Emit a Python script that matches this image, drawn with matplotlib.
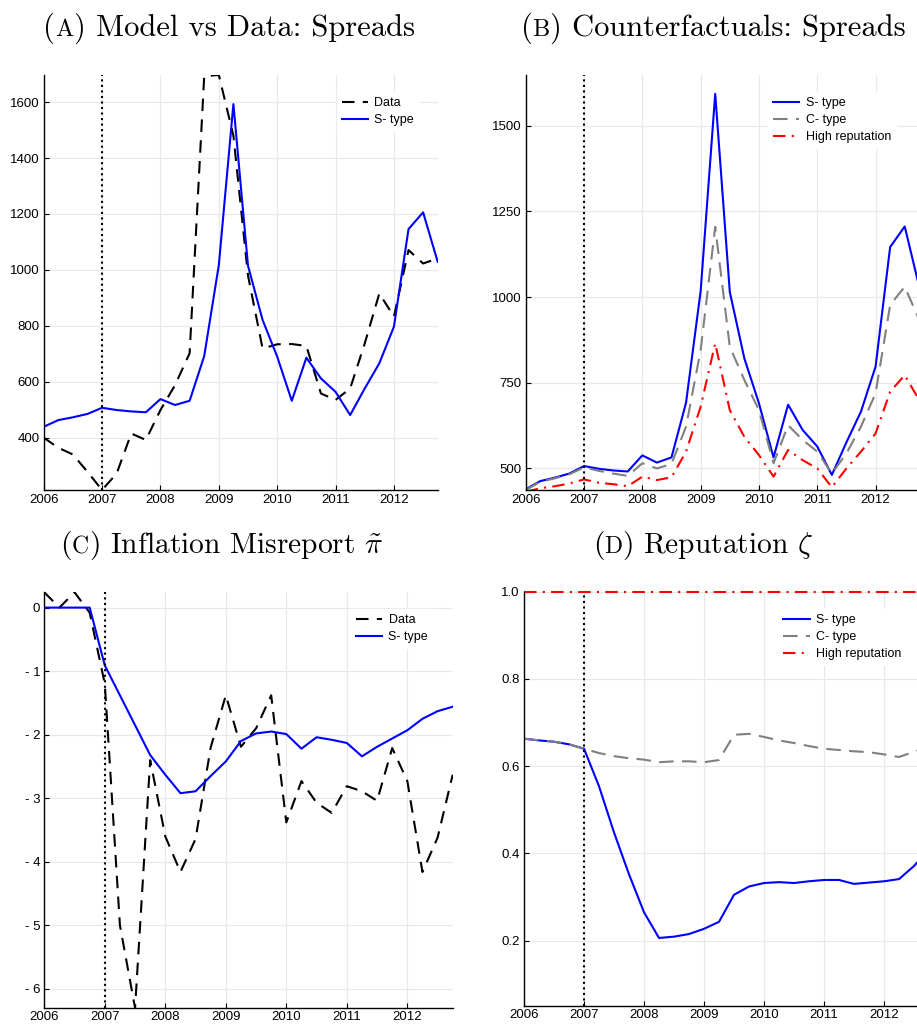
import matplotlib.pyplot as plt
import numpy as np

plt.rcParams['font.family'] = 'Liberation Sans'
plt.rcParams['mathtext.fontset'] = 'cm'

W, H = 917, 1026

# quarterly observations, 2006Q1 - 2012Q4
quarters = np.arange(2006, 2013, 0.25)

spread_data = [400, 364, 340, 278, 213, 272, 415, 392, 499, 588, 702, 1693,
               1697, 1480, 980, 719, 734, 735, 728, 558, 535, 576, 737, 916,
               833, 1071, 1023, 1041]
spread_s = [439, 463, 473, 485, 507, 499, 494, 491, 538, 517, 532, 692,
            1017, 1593, 1015, 821, 690, 532, 686, 612, 564, 481, 576, 666,
            797, 1146, 1206, 1029]
spread_c = [437, 461, 471, 483, 503, 493, 485, 478, 515, 500, 513, 622,
            845, 1205, 855, 758, 670, 515, 626, 583, 549, 485, 544, 622,
            719, 977, 1030, 933]
spread_high = [432, 442, 448, 456, 468, 458, 454, 448, 476, 466, 474, 549,
               680, 865, 670, 592, 539, 476, 554, 524, 500, 445, 500, 549,
               602, 724, 772, 699]

misreport_data = [0.24, 0.0, 0.24, -0.08, -1.2, -5.0, -6.3, -2.4, -3.6, -4.16,
                  -3.64, -2.2, -1.38, -2.19, -1.9, -1.38, -3.38, -2.73, -3.07,
                  -3.23, -2.81, -2.89, -3.04, -2.21, -2.73, -4.16, -3.62, -2.63]
misreport_s = [0, 0, 0, 0, -0.91, -1.38, -1.85, -2.32, -2.63, -2.92, -2.89,
               -2.65, -2.42, -2.10, -1.98, -1.95, -1.99, -2.22, -2.04, -2.08,
               -2.13, -2.34, -2.19, -2.06, -1.93, -1.75, -1.63, -1.56]

reputation_s = [0.663, 0.659, 0.656, 0.650, 0.640, 0.554, 0.448, 0.352, 0.265,
                0.206, 0.209, 0.215, 0.227, 0.243, 0.305, 0.324, 0.332, 0.334,
                0.332, 0.336, 0.339, 0.339, 0.330, 0.333, 0.336, 0.341, 0.371,
                0.41]
reputation_c = [0.663, 0.659, 0.656, 0.650, 0.640, 0.630, 0.623, 0.618, 0.615,
                0.609, 0.611, 0.611, 0.609, 0.614, 0.672, 0.674, 0.667, 0.659,
                0.653, 0.646, 0.640, 0.637, 0.634, 0.632, 0.627, 0.621, 0.633,
                0.645]
reputation_high = [1.0] * len(quarters)

year_ticks = [2006, 2007, 2008, 2009, 2010, 2011, 2012]
year_labels = ['2006', '2007', '2008', '2009', '2010', '2011', '2012']

DATA_STYLE = dict(color='black', lw=1.5, ls=(0, (6, 4)))
S_STYLE = dict(color='#0000ff', lw=1.5)
C_STYLE = dict(color='#808080', lw=1.5, ls=(0, (7, 4)))
HIGH_STYLE = dict(color='#ff0000', lw=1.5, ls=(0, (6, 3, 1, 3)))

fig = plt.figure(figsize=(W / 100, H / 100), dpi=100)


def panel(left, top, right, bottom, xpad=3):
    ax = fig.add_axes([left / W, 1 - bottom / H, (right - left) / W, (bottom - top) / H])
    for side in ('top', 'right'):
        ax.spines[side].set_visible(False)
    for side in ('left', 'bottom'):
        ax.spines[side].set_linewidth(1.0)
    ax.grid(True, color='#e8e8e8', lw=0.9)
    ax.set_axisbelow(True)
    ax.tick_params(direction='in', length=3.5, width=0.8, pad=3, labelsize=9.5)
    ax.tick_params(axis='x', pad=xpad)
    ax.set_xlim(2006, 2012.75)
    ax.set_xticks(year_ticks)
    ax.set_xticklabels(year_labels)
    ax.axvline(2007, color='black', ls=':', lw=1.5, zorder=5)
    return ax


def legend(ax, left, top):
    leg = ax.legend(loc='upper left', bbox_to_anchor=(left / W, 1 - top / H),
                    bbox_transform=fig.transFigure, fontsize=9, frameon=True,
                    fancybox=False, framealpha=1, edgecolor='white',
                    borderpad=0.4, borderaxespad=0, labelspacing=0.4,
                    handlelength=2.1, handletextpad=0.5)
    leg.set_zorder(6)


def caption(cx, base_y, letter, rest, size=22):
    # caption with a small-caps panel letter, centred on cx (pixels)
    parts = [('(', size), (letter, size * 0.8), (') ' + rest, size)]
    texts = [fig.text(0, 1 - base_y / H, s, fontsize=fs, family='cmr10',
                      va='baseline', ha='left') for s, fs in parts]
    renderer = fig.canvas.get_renderer()
    widths = [t.get_window_extent(renderer).width for t in texts]
    x = cx - sum(widths) / 2
    for t, w in zip(texts, widths):
        t.set_x(x / W)
        x += w


# (A) model vs data spreads
ax = panel(43.7, 75, 437.7, 490)
ax.plot(quarters, spread_data, label='Data', **DATA_STYLE)
ax.plot(quarters, spread_s, label='S- type', **S_STYLE)
ax.set_ylim(213, 1697)
ax.set_yticks([400, 600, 800, 1000, 1200, 1400, 1600])
legend(ax, 336.7, 92)

# (B) counterfactual spreads
ax = panel(525.7, 75, 919.3, 490)
ax.plot(quarters, spread_s, label='S- type', **S_STYLE)
ax.plot(quarters, spread_c, label='C- type', **C_STYLE)
ax.plot(quarters, spread_high, label='High reputation', **HIGH_STYLE)
ax.set_ylim(437, 1648)
ax.set_yticks([500, 750, 1000, 1250, 1500])
legend(ax, 768, 92)

# (C) inflation misreport
ax = panel(44.3, 591.7, 452.7, 1008, xpad=2)
ax.plot(quarters, misreport_data, label='Data', **DATA_STYLE)
ax.plot(quarters, misreport_s, label='S- type', **S_STYLE)
ax.set_ylim(-6.3, 0.25)
ax.set_yticks([-6, -5, -4, -3, -2, -1, 0])
ax.set_yticklabels(['- 6', '- 5', '- 4', '- 3', '- 2', '- 1', '0'])
legend(ax, 351, 609)

# (D) reputation
ax = panel(524, 591.7, 929, 1006, xpad=2)
ax.plot(quarters, reputation_s, label='S- type', **S_STYLE)
ax.plot(quarters, reputation_c, label='C- type', **C_STYLE)
ax.plot(quarters, reputation_high, label='High reputation', clip_on=False, **HIGH_STYLE)
ax.set_ylim(0.05, 1.0)
ax.set_yticks([0.2, 0.4, 0.6, 0.8, 1.0])
ax.set_yticklabels(['0.2', '0.4', '0.6', '0.8', '1.0'])
legend(ax, 778.3, 609)

caption(229, 35.7, 'A', 'Model vs Data: Spreads')
caption(713, 35.7, 'B', 'Counterfactuals: Spreads')
caption(222, 553.3, 'C', r'Inflation Misreport $\tilde{\pi}$', size=21.2)
caption(703, 553.3, 'D', r'Reputation $\zeta$', size=21.2)

fig.savefig('out.png', dpi=100)
